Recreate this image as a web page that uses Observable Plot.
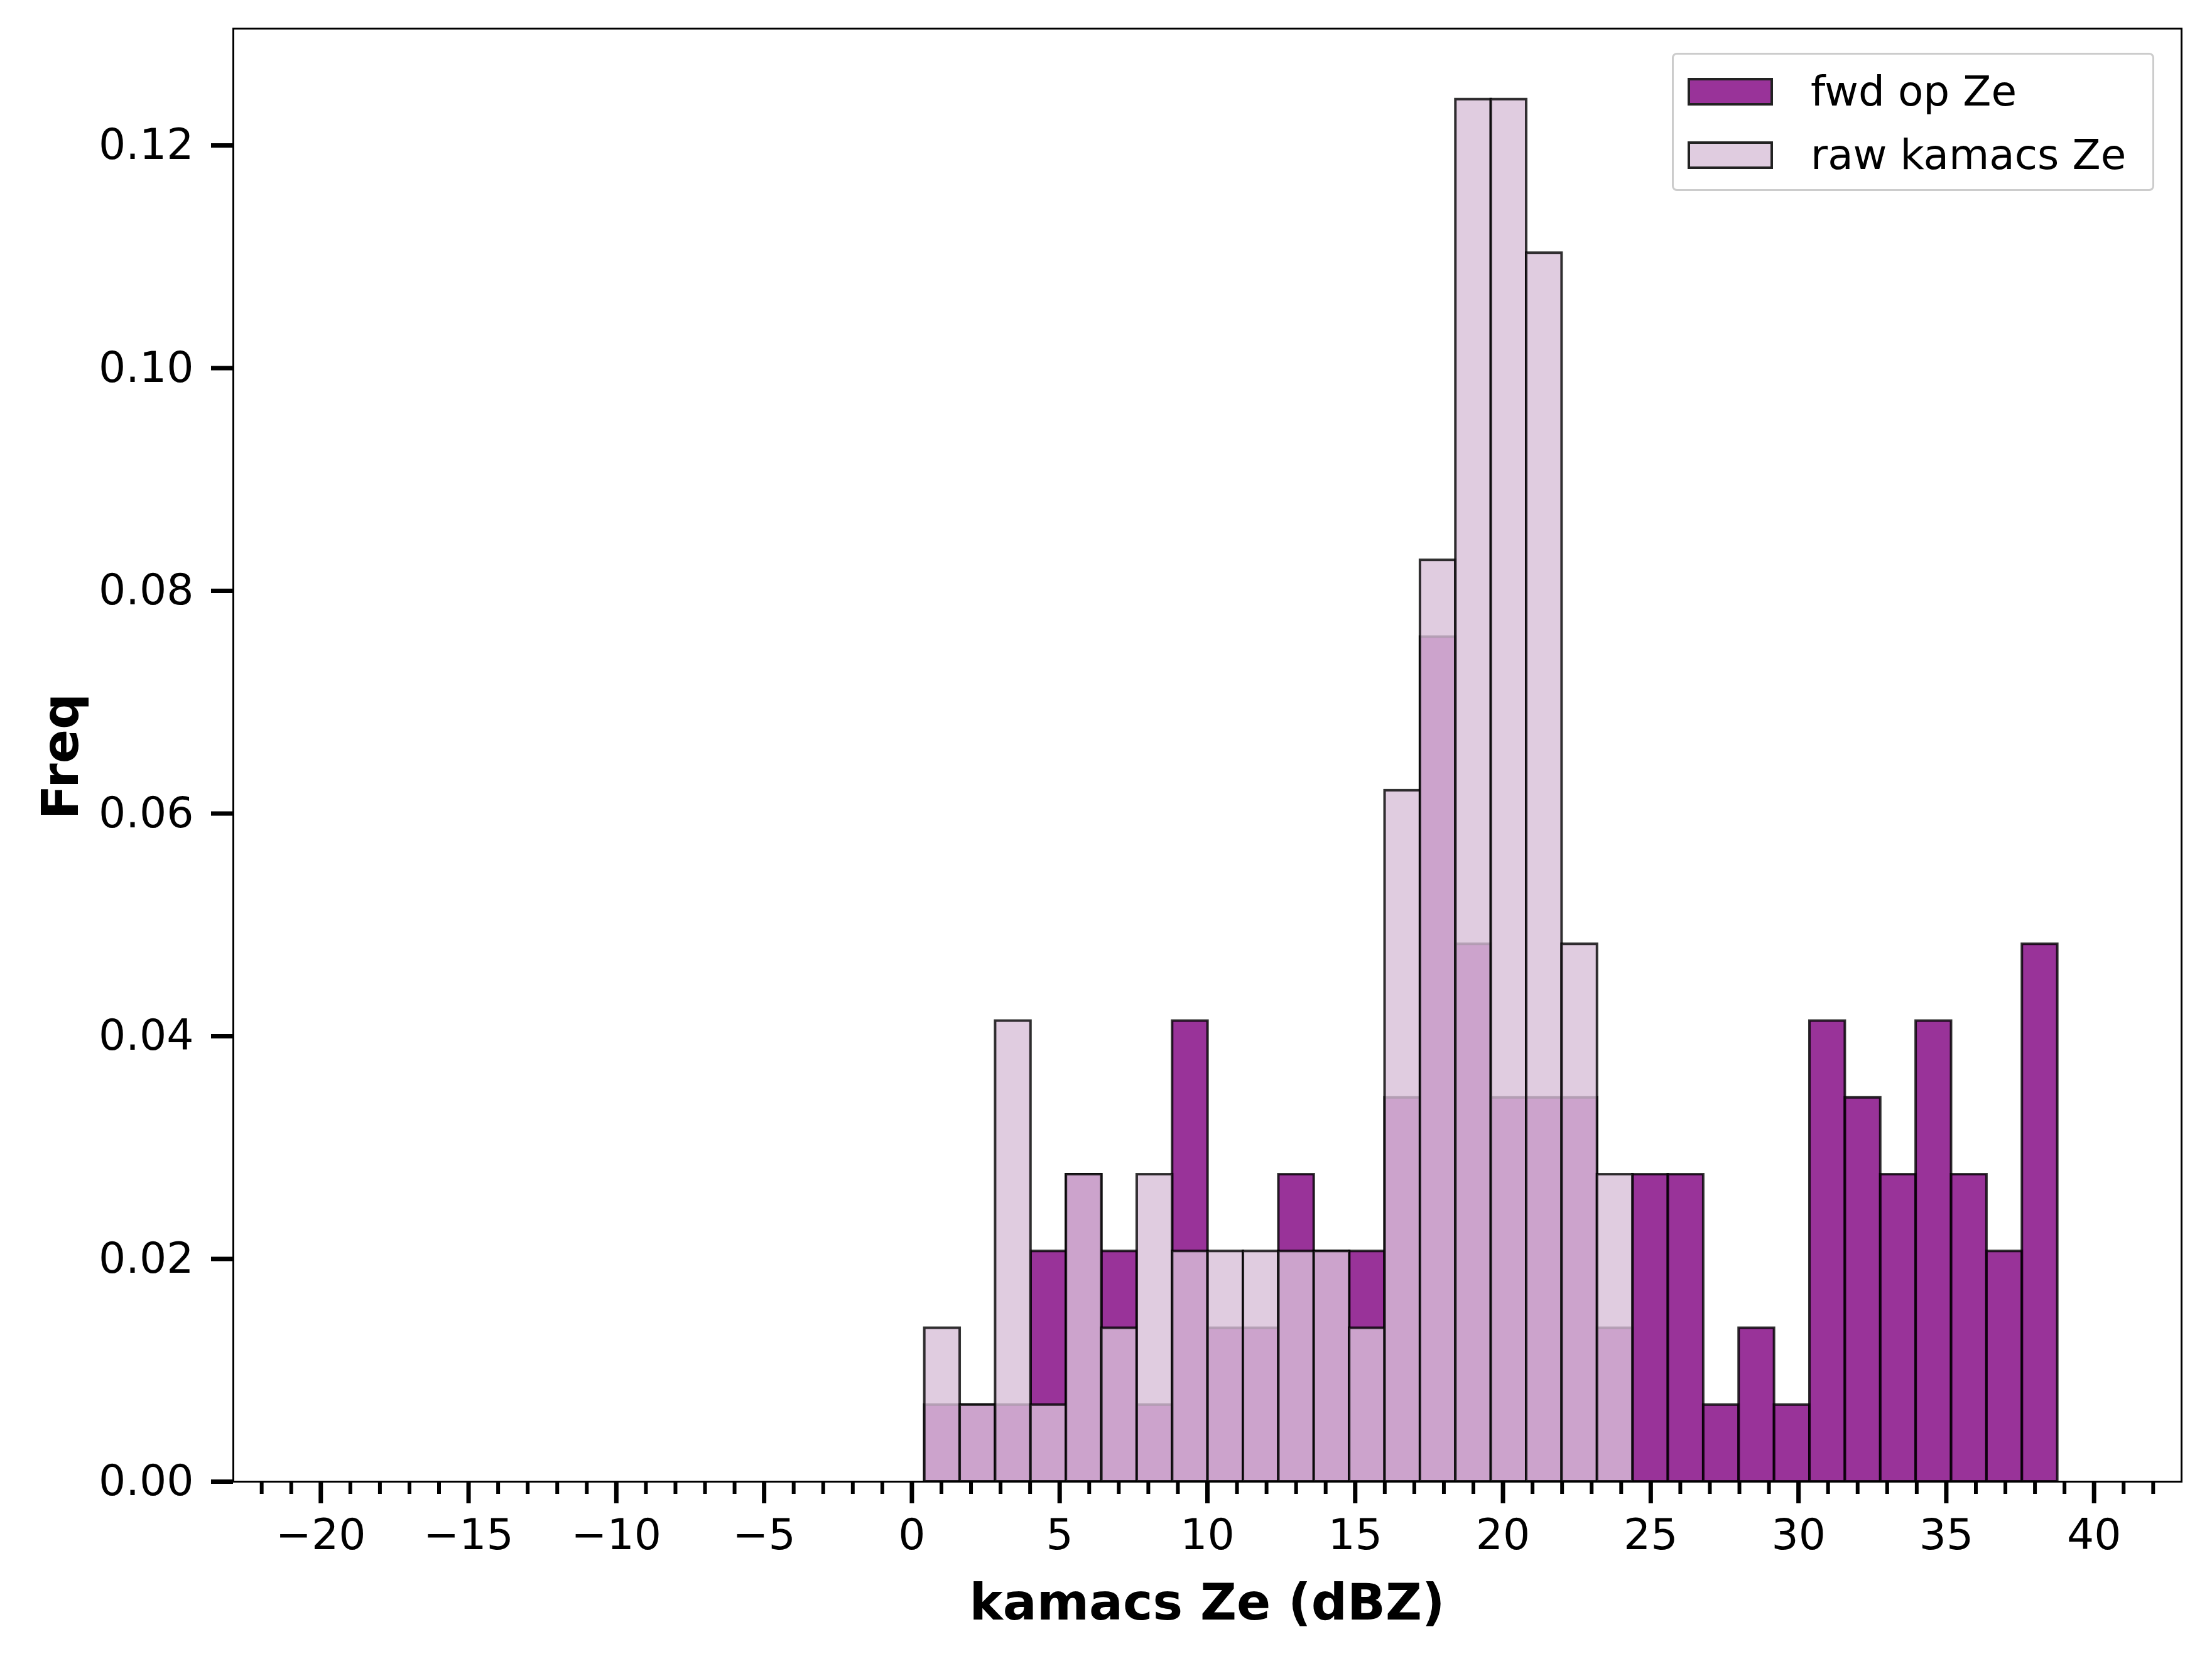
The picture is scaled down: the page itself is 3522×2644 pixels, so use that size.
<!DOCTYPE html>
<html><head>
<script src="https://cdn.jsdelivr.net/npm/d3@7"></script>
<script src="https://cdn.jsdelivr.net/npm/@observablehq/plot@0.6"></script>
<style>body{margin:0;background:#fff;font-family:"DejaVu Sans",sans-serif}#c{position:relative;width:3522px;height:2644px}
.lg{position:absolute;left:2662px;width:768px;top:84px;height:220px;box-sizing:border-box;border:3px solid #ccc;border-radius:8px;background:#fff;padding:8px 0 0 22px;font-size:66px}
.lg div{display:flex;align-items:center;height:101px}.lg span{display:inline-block;width:136px;height:44px;border:4px solid #222;margin-right:60px;box-sizing:border-box}</style>
</head><body><div id="c"></div>
<script>
const binStart = 0.43, binWidth = 1.198;
const fwd = [1,1,1,3,4,3,1,6,2,2,4,3,3,5,11,7,5,5,5,2,4,4,1,2,1,6,5,4,6,4,3,7].map(v=>v/145);
const raw = [2,1,6,1,4,2,4,3,3,3,3,3,2,9,12,18,18,16,7,4,0,0,0,0,0,0,0,0,0,0,0,0].map(v=>v/145);
const xTicks = [-20,-15,-10,-5,0,5,10,15,20,25,30,35,40];
const yTicks = [0,0.02,0.04,0.06,0.08,0.10,0.12];
const bins = fwd.map((f,i)=>({x1:binStart+i*binWidth,x2:binStart+(i+1)*binWidth,fwd:f,raw:raw[i]}));
const minor = d3.range(-22,43).filter(d=>d%5!==0);
const W=3522,H=2644;
const fmtX = d=>d<0?"\u2212"+(-d):String(d);
const svg = Plot.plot({
  width:W,height:H,marginLeft:371,marginRight:49,marginTop:45,marginBottom:286,
  style:{fontFamily:"DejaVu Sans",fontSize:"50px",color:"#000",background:"#fff"},
  x:{domain:[-22.96,42.96],label:null,axis:null},
  y:{domain:[0,0.1305],label:null,axis:null},
  marks:[
    Plot.rectY(bins,{x1:"x1",x2:"x2",y1:0,y2:"fwd",fill:"purple",fillOpacity:0.8,stroke:"#000",strokeOpacity:0.8,strokeWidth:4,insetLeft:0,insetRight:0}),
    Plot.rectY(bins.filter(d=>d.raw>0),{x1:"x1",x2:"x2",y1:0,y2:"raw",fill:"thistle",fillOpacity:0.8,stroke:"#000",strokeOpacity:0.8,strokeWidth:4,insetLeft:0,insetRight:0}),
    Plot.axisX({ticks:minor,tickSize:20,tickFormat:()=>"",strokeWidth:6,label:null}),
    Plot.axisX({ticks:xTicks,tickSize:35,strokeWidth:7,tickFormat:fmtX,fontSize:68,label:null,tickPadding:24}),
    Plot.axisY({ticks:yTicks,tickSize:35,strokeWidth:7,tickFormat:d3.format(".2f"),fontSize:68,label:null,tickPadding:28}),
    Plot.frame({stroke:"#000",strokeWidth:3})
  ]
});
document.getElementById("c").appendChild(svg);
svg.style.position="absolute";svg.style.left="0";svg.style.top="0";
const ns="http://www.w3.org/2000/svg";
function txt(s,x,y,rot){const t=document.createElementNS(ns,"text");t.textContent=s;t.setAttribute("x",x);t.setAttribute("y",y);t.setAttribute("font-size","80");t.setAttribute("font-weight","bold");t.setAttribute("font-family","DejaVu Sans");t.setAttribute("text-anchor","middle");t.setAttribute("fill","#000");if(rot)t.setAttribute("transform",`rotate(-90 ${x} ${y})`);svg.appendChild(t);}
txt("kamacs Ze (dBZ)",1922,2578);
txt("Freq",124,1204,true);
const lg=document.createElement("div");lg.className="lg";
lg.innerHTML='<div><span style="background:rgba(128,0,128,0.8)"></span>fwd op Ze</div><div><span style="background:rgba(216,191,216,0.8)"></span>raw kamacs Ze</div>';
document.getElementById("c").appendChild(lg);
</script></body></html>
